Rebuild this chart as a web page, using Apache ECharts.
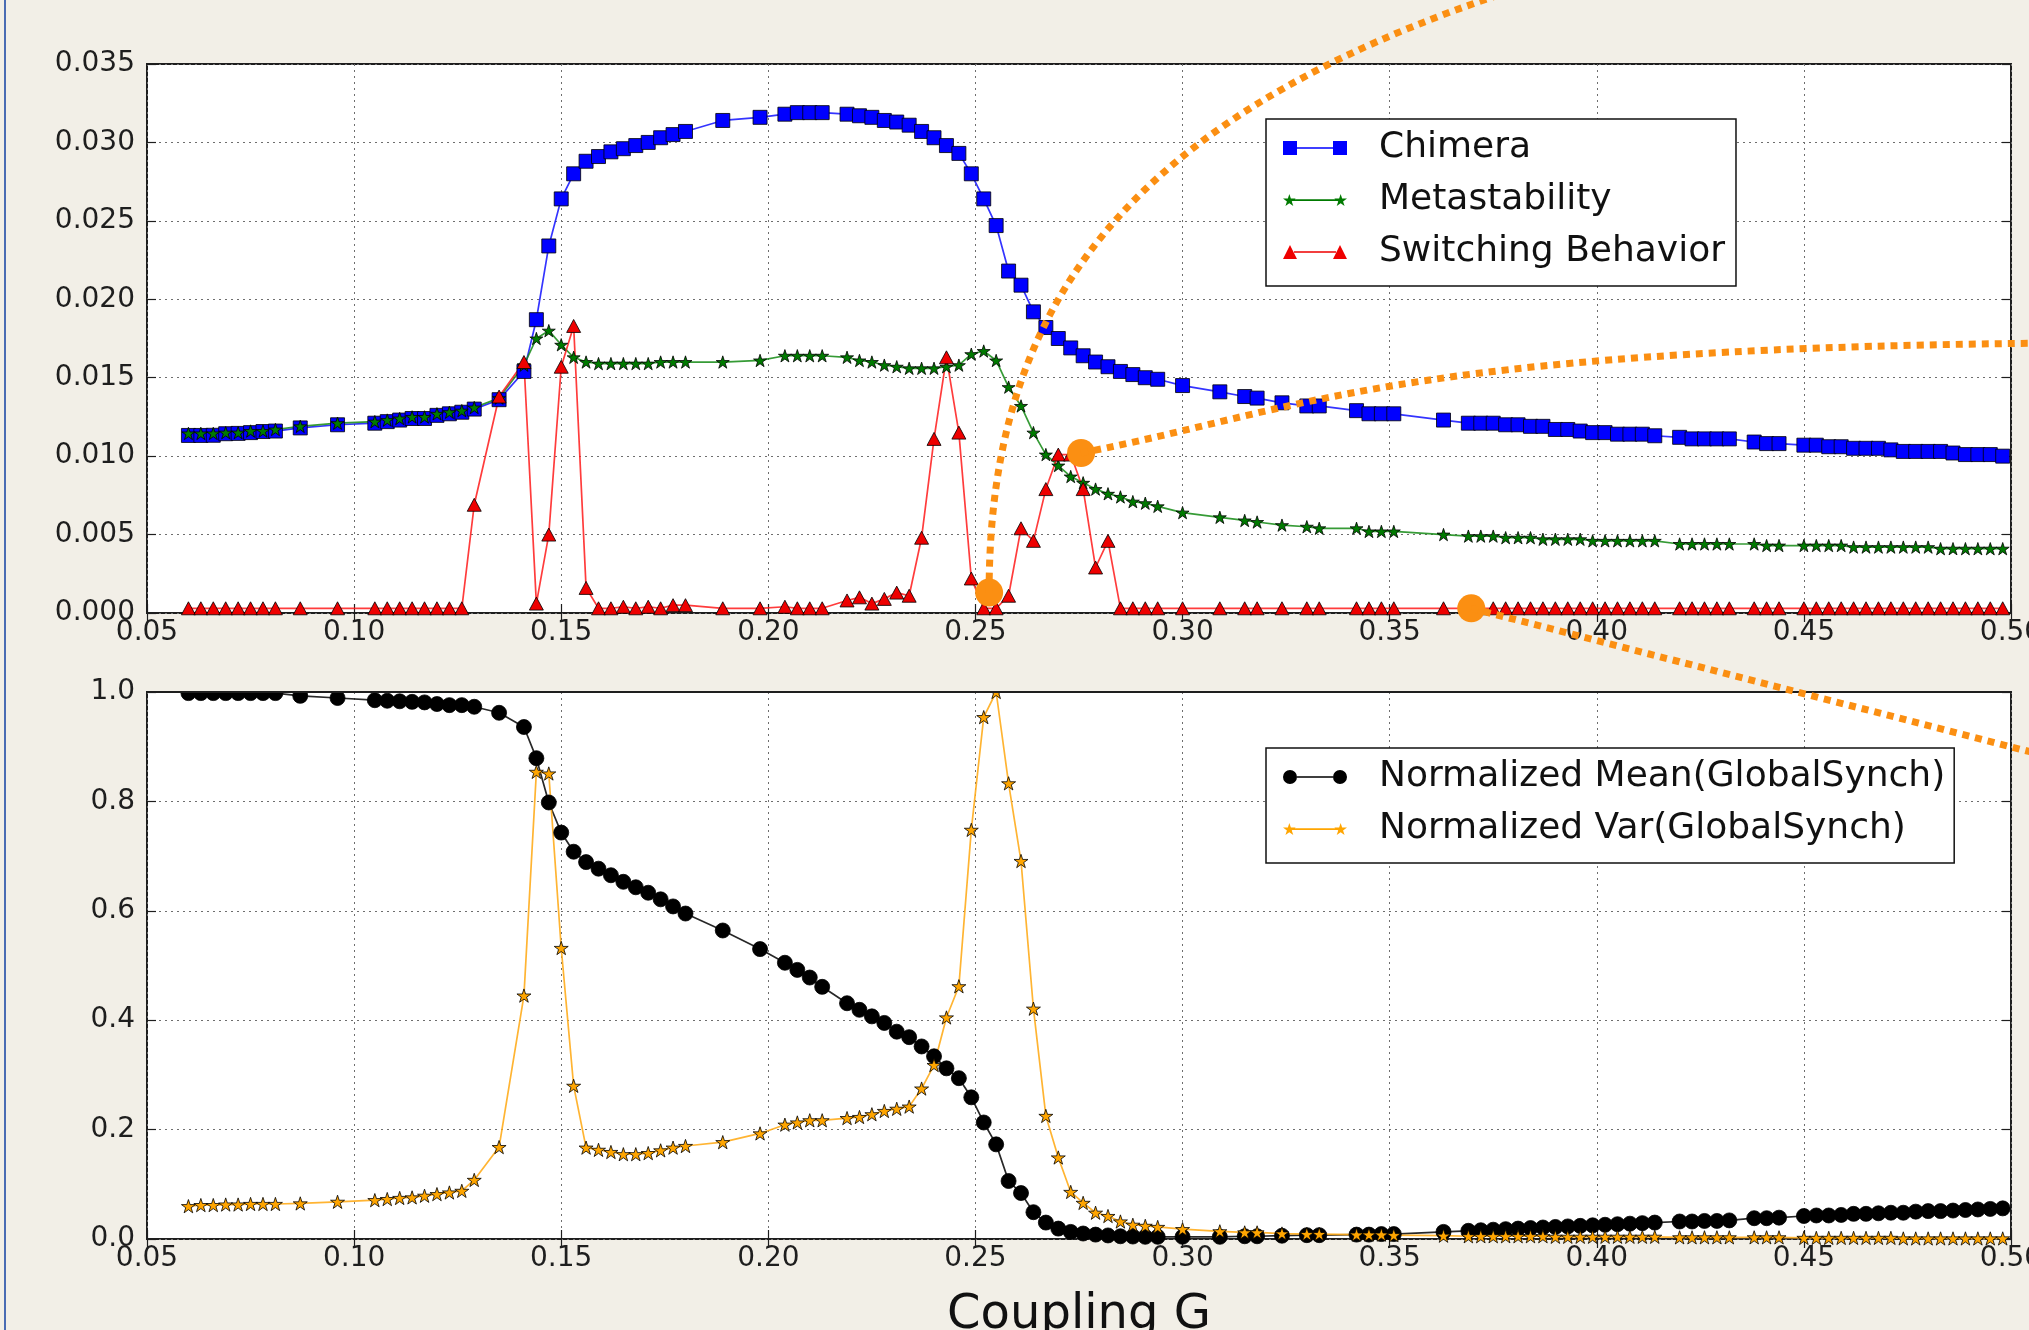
<!DOCTYPE html>
<html>
<head>
<meta charset="utf-8">
<script src="https://cdn.jsdelivr.net/npm/echarts@6/dist/echarts.min.js"></script>
<style>
  html, body { margin: 0; padding: 0; background: #f2efe7; }
  #chart { width: 2029px; height: 1330px; }
</style>
</head>
<body>
<div id="chart"></div>
<script>
// Coupling strength G sampled in the sweep
const couplingG = [
  0.060, 0.063, 0.066, 0.069, 0.072, 0.075, 0.078, 0.081, 0.087, 0.096,
  0.105, 0.108, 0.111, 0.114, 0.117, 0.120, 0.123, 0.126, 0.129, 0.135,
  0.141, 0.144, 0.147, 0.150, 0.153, 0.156, 0.159, 0.162, 0.165, 0.168,
  0.171, 0.174, 0.177, 0.180, 0.189, 0.198, 0.204, 0.207, 0.210, 0.213,
  0.219, 0.222, 0.225, 0.228, 0.231, 0.234, 0.237, 0.240, 0.243, 0.246,
  0.249, 0.252, 0.255, 0.258, 0.261, 0.264, 0.267, 0.270, 0.273, 0.276,
  0.279, 0.282, 0.285, 0.288, 0.291, 0.294, 0.300, 0.309, 0.315, 0.318,
  0.324, 0.330, 0.333, 0.342, 0.345, 0.348, 0.351, 0.363, 0.369, 0.372,
  0.375, 0.378, 0.381, 0.384, 0.387, 0.390, 0.393, 0.396, 0.399, 0.402,
  0.405, 0.408, 0.411, 0.414, 0.420, 0.423, 0.426, 0.429, 0.432, 0.438,
  0.441, 0.444, 0.450, 0.453, 0.456, 0.459, 0.462, 0.465, 0.468, 0.471,
  0.474, 0.477, 0.480, 0.483, 0.486, 0.489, 0.492, 0.495, 0.498
];

const chimera = [
  0.01132, 0.01132, 0.01133, 0.01143, 0.01145, 0.0115, 0.01157, 0.0116, 0.0118, 0.0120,
  0.0121, 0.0122, 0.0123, 0.0124, 0.0124, 0.0126, 0.0127, 0.0128, 0.0130, 0.0136,
  0.0154, 0.0187, 0.0234, 0.0264, 0.0280, 0.0288, 0.0291, 0.0294, 0.0296, 0.0298,
  0.0300, 0.0303, 0.0305, 0.0307, 0.0314, 0.0316, 0.0318, 0.0319, 0.0319, 0.0319,
  0.0318, 0.0317, 0.0316, 0.0314, 0.0313, 0.0311, 0.0307, 0.0303, 0.0298, 0.0293,
  0.0280, 0.0264, 0.0247, 0.0218, 0.0209, 0.0192, 0.0182, 0.0175, 0.0169, 0.0164,
  0.0160, 0.0157, 0.0154, 0.0152, 0.0150, 0.0149, 0.0145, 0.0141, 0.0138, 0.0137,
  0.0134, 0.0132, 0.0132, 0.0129, 0.0127, 0.0127, 0.0127, 0.0123, 0.0121, 0.0121,
  0.0121, 0.0120, 0.0120, 0.0119, 0.0119, 0.0117, 0.0117, 0.0116, 0.0115, 0.0115,
  0.0114, 0.0114, 0.0114, 0.0113, 0.0112, 0.0111, 0.0111, 0.0111, 0.0111, 0.0109,
  0.0108, 0.0108, 0.0107, 0.0107, 0.0106, 0.0106, 0.0105, 0.0105, 0.0105, 0.0104,
  0.0103, 0.0103, 0.0103, 0.0103, 0.0102, 0.0101, 0.0101, 0.0101, 0.0100
];

const metastability = [
  0.01145, 0.01145, 0.01145, 0.0115, 0.0115, 0.0116, 0.0116, 0.0117, 0.0119, 0.0121,
  0.0122, 0.0123, 0.0124, 0.0125, 0.0125, 0.0127, 0.0128, 0.0129, 0.0131, 0.0137,
  0.0158, 0.0175, 0.0180, 0.0171, 0.0163, 0.0160, 0.0159, 0.0159, 0.0159, 0.0159,
  0.0159, 0.0160, 0.0160, 0.0160, 0.0160, 0.0161, 0.0164, 0.0164, 0.0164, 0.0164,
  0.0163, 0.0161, 0.0160, 0.0158, 0.0157, 0.0156, 0.0156, 0.0156, 0.0157, 0.0158,
  0.0165, 0.0167, 0.0161, 0.0144, 0.0132, 0.0115, 0.0101, 0.0094, 0.0087, 0.0083,
  0.0079, 0.0076, 0.0074, 0.0071, 0.0070, 0.0068, 0.0064, 0.0061, 0.0059, 0.0058,
  0.0056, 0.0055, 0.0054, 0.0054, 0.0052, 0.0052, 0.0052, 0.0050, 0.0049, 0.0049,
  0.0049, 0.0048, 0.0048, 0.0048, 0.0047, 0.0047, 0.0047, 0.0047, 0.0046, 0.0046,
  0.0046, 0.0046, 0.0046, 0.0046, 0.0044, 0.0044, 0.0044, 0.0044, 0.0044, 0.0044,
  0.0043, 0.0043, 0.0043, 0.0043, 0.0043, 0.0043, 0.0042, 0.0042, 0.0042, 0.0042,
  0.0042, 0.0042, 0.0042, 0.0041, 0.0041, 0.0041, 0.0041, 0.0041, 0.0041
];

const switching = [
  0.0003, 0.0003, 0.0003, 0.0003, 0.0003, 0.0003, 0.0003, 0.0003, 0.0003, 0.0003,
  0.0003, 0.0003, 0.0003, 0.0003, 0.0003, 0.0003, 0.0003, 0.0003, 0.0069, 0.0138,
  0.0160, 0.0006, 0.0050, 0.0157, 0.0183, 0.0016, 0.0003, 0.0003, 0.0004, 0.0003,
  0.0004, 0.0003, 0.0005, 0.0005, 0.0003, 0.0003, 0.0004, 0.0003, 0.0003, 0.0003,
  0.0008, 0.0010, 0.0006, 0.0009, 0.0013, 0.0011, 0.0048, 0.0111, 0.0163, 0.0115,
  0.0022, 0.0003, 0.0003, 0.0011, 0.0054, 0.0046, 0.0079, 0.0101, 0.0101, 0.0079,
  0.0029, 0.0046, 0.0003, 0.0003, 0.0003, 0.0003, 0.0003, 0.0003, 0.0003, 0.0003,
  0.0003, 0.0003, 0.0003, 0.0003, 0.0003, 0.0003, 0.0003, 0.0003, 0.0003, 0.0003,
  0.0003, 0.0003, 0.0003, 0.0003, 0.0003, 0.0003, 0.0003, 0.0003, 0.0003, 0.0003,
  0.0003, 0.0003, 0.0003, 0.0003, 0.0003, 0.0003, 0.0003, 0.0003, 0.0003, 0.0003,
  0.0003, 0.0003, 0.0003, 0.0003, 0.0003, 0.0003, 0.0003, 0.0003, 0.0003, 0.0003,
  0.0003, 0.0003, 0.0003, 0.0003, 0.0003, 0.0003, 0.0003, 0.0003, 0.0003
];

const meanSync = [
  0.998, 0.998, 0.998, 0.998, 0.998, 0.998, 0.998, 0.998, 0.993, 0.989,
  0.985, 0.984, 0.983, 0.982, 0.981, 0.978, 0.976, 0.976, 0.973, 0.962,
  0.936, 0.879, 0.798, 0.743, 0.708, 0.689, 0.677, 0.665, 0.653, 0.643,
  0.633, 0.621, 0.608, 0.595, 0.564, 0.530, 0.505, 0.492, 0.478, 0.461,
  0.431, 0.419, 0.407, 0.395, 0.379, 0.369, 0.352, 0.334, 0.312, 0.294,
  0.259, 0.213, 0.173, 0.106, 0.084, 0.049, 0.030, 0.019, 0.013, 0.010,
  0.008, 0.0065, 0.005, 0.0045, 0.004, 0.004, 0.004, 0.004, 0.005, 0.005,
  0.006, 0.007, 0.007, 0.008, 0.008, 0.009, 0.009, 0.013, 0.015, 0.016,
  0.017, 0.018, 0.019, 0.020, 0.021, 0.022, 0.023, 0.024, 0.025, 0.026,
  0.027, 0.028, 0.029, 0.030, 0.032, 0.032, 0.033, 0.033, 0.034, 0.038,
  0.038, 0.039, 0.042, 0.043, 0.043, 0.044, 0.046, 0.046, 0.047, 0.048,
  0.048, 0.050, 0.051, 0.051, 0.052, 0.053, 0.054, 0.055, 0.056
];

const varSync = [
  0.060, 0.062, 0.062, 0.063, 0.063, 0.064, 0.064, 0.064, 0.065, 0.068,
  0.071, 0.073, 0.075, 0.076, 0.079, 0.082, 0.085, 0.088, 0.108, 0.168,
  0.445, 0.854, 0.851, 0.532, 0.280, 0.167, 0.163, 0.159, 0.155, 0.155,
  0.157, 0.162, 0.167, 0.170, 0.177, 0.193, 0.209, 0.213, 0.217, 0.217,
  0.221, 0.223, 0.228, 0.234, 0.238, 0.242, 0.275, 0.318, 0.405, 0.462,
  0.748, 0.954, 1.000, 0.833, 0.691, 0.421, 0.225, 0.149, 0.086, 0.066,
  0.048, 0.042, 0.032, 0.026, 0.024, 0.022, 0.018, 0.014, 0.012, 0.012,
  0.010, 0.009, 0.009, 0.008, 0.008, 0.008, 0.007, 0.006, 0.005, 0.005,
  0.005, 0.005, 0.005, 0.005, 0.005, 0.004, 0.004, 0.004, 0.004, 0.004,
  0.004, 0.004, 0.004, 0.004, 0.003, 0.003, 0.003, 0.003, 0.003, 0.003,
  0.003, 0.003, 0.002, 0.002, 0.002, 0.002, 0.002, 0.002, 0.002, 0.002,
  0.001, 0.001, 0.001, 0.001, 0.001, 0.001, 0.001, 0.001, 0.001
];

// Axis ticks
const xTicks = { min: 0.05, max: 0.50, step: 0.05 };
const yTicksTop = { min: 0, max: 0.035, step: 0.005 };
const yTicksBottom = { min: 0, max: 1.0, step: 0.2 };

// Highlighted points on the top panel and the dotted call-out curves leaving them
// (curve control points are in the top panel's data units)
const calloutPoints = [[0.2533, 0.0013], [0.2755, 0.0102], [0.3697, 0.0003]];
const calloutCurves = [
  { from: 0, c1: [0.2533, 0.0200], c2: [0.2872, 0.0334], to: [0.4055, 0.0417] },
  { from: 1, c1: [0.3283, 0.0129], c2: [0.3507, 0.0168], to: [0.5069, 0.0172] },
  { from: 2, c1: [0.4154, -0.0028], c2: [0.4612, -0.0059], to: [0.5069, -0.0090] }
];

const FONT = 'DejaVu Sans';
const INK = '#1e1e1e';
const PAGE_BG = '#f2efe7';
const STAR_PTS = [[50,0],[61.2,34.5],[97.6,34.5],[68.2,55.9],[79.4,90.5],[50,69.1],
                  [20.6,90.5],[31.8,55.9],[2.4,34.5],[38.8,34.5]];
const STAR = 'path://M' + STAR_PTS.map(p => p.join(',')).join('L') + 'Z';

// Legend keys: a short line with a marker at each end (64 x 14 box)
const keyMarkers = {
  square: cx => `M${cx - 7},0h14v14h-14Z`,
  triangle: cx => `M${cx},0L${cx + 7},14L${cx - 7},14Z`,
  circle: cx => `M${cx - 7},7A7,7 0 1,1 ${cx + 7},7A7,7 0 1,1 ${cx - 7},7Z`,
  star: cx => 'M' + STAR_PTS.map(p => `${(cx - 6.5 + p[0] * 0.13).toFixed(2)},${(1 + p[1] * 0.13).toFixed(2)}`).join('L') + 'Z'
};
function legendKey(kind, lineFrom, lineTo) {
  return 'path://' + keyMarkers[kind](7) + `M${lineFrom},6.2H${lineTo}V7.8H${lineFrom}Z` + keyMarkers[kind](57);
}

const pairs = ys => couplingG.map((g, i) => [g, ys[i]]);

const tickStyle = { show: true, inside: true, length: 9, lineStyle: { color: INK, width: 1.2 } };
const gridLineStyle = { show: true, lineStyle: { color: '#6e6e6e', width: 1, type: [2, 4] } };

function xAxisMain(gridIndex, withName) {
  const ax = {
    type: 'value', gridIndex, min: xTicks.min, max: xTicks.max, interval: xTicks.step,
    position: 'bottom', axisLine: { show: false }, axisTick: tickStyle,
    axisLabel: { fontFamily: FONT, fontSize: 28, color: INK, margin: 6,
                 formatter: v => v.toFixed(2) },
    splitLine: gridLineStyle
  };
  if (withName) {
    ax.name = 'Coupling G';
    ax.nameLocation = 'middle';
    ax.nameGap = 53;
    ax.nameTextStyle = { fontFamily: FONT, fontSize: 48, color: '#111' };
  }
  return ax;
}
function xAxisTop(gridIndex) {
  return {
    type: 'value', gridIndex, min: xTicks.min, max: xTicks.max, interval: xTicks.step,
    position: 'top', axisLine: { show: false }, axisLabel: { show: false },
    splitLine: { show: false }, axisTick: tickStyle
  };
}
function yAxisMain(gridIndex, t, digits) {
  return {
    type: 'value', gridIndex, min: t.min, max: t.max, interval: t.step, position: 'left',
    axisLine: { show: false }, axisTick: tickStyle,
    axisLabel: { fontFamily: FONT, fontSize: 28, color: INK, margin: 12,
                 formatter: v => v.toFixed(digits) },
    splitLine: gridLineStyle
  };
}
function yAxisRight(gridIndex, t) {
  return {
    type: 'value', gridIndex, min: t.min, max: t.max, interval: t.step, position: 'right',
    axisLine: { show: false }, axisLabel: { show: false }, splitLine: { show: false },
    axisTick: tickStyle
  };
}

function lineSeries(name, ys, xi, yi, color, symbol, size, fill, lineOpacity) {
  return {
    name, type: 'line', xAxisIndex: xi, yAxisIndex: yi, data: pairs(ys),
    symbol, symbolSize: size, showAllSymbol: true, animation: false,
    lineStyle: { color, width: 1.7, opacity: lineOpacity },
    itemStyle: { color: fill, borderColor: '#000', borderWidth: 0.8 },
    emphasis: { disabled: true }
  };
}

const legendBase = {
  orient: 'vertical', left: 1266, itemWidth: 64, itemHeight: 14, itemGap: 12,
  backgroundColor: '#ffffff', borderColor: '#111', borderWidth: 1.5, borderRadius: 0,
  selectedMode: false,
  itemStyle: { borderWidth: 0 },
  lineStyle: { width: 0 },
  textStyle: { fontFamily: FONT, fontSize: 36, color: '#111', lineHeight: 40,
               padding: [0, 0, 0, 27] }
};

const option = {
  backgroundColor: PAGE_BG,
  animation: false,
  grid: [
    { left: 147, right: 18, top: 64, height: 549, show: true, backgroundColor: '#ffffff',
      borderColor: INK, borderWidth: 2, containLabel: false, outerBoundsMode: 'none' },
    { left: 147, right: 18, top: 692, height: 547, show: true, backgroundColor: '#ffffff',
      borderColor: INK, borderWidth: 2, containLabel: false, outerBoundsMode: 'none' }
  ],
  xAxis: [xAxisMain(0, false), xAxisTop(0), xAxisMain(1, true), xAxisTop(1)],
  yAxis: [yAxisMain(0, yTicksTop, 3), yAxisRight(0, yTicksTop),
          yAxisMain(1, yTicksBottom, 1), yAxisRight(1, yTicksBottom)],
  legend: [
    Object.assign({}, legendBase, { top: 119, padding: [9, 11, 14, 17],
      data: [
        { name: 'Chimera', icon: legendKey('square', 14, 50) },
        { name: 'Metastability', icon: legendKey('star', 10, 54) },
        { name: 'Switching Behavior', icon: legendKey('triangle', 11, 53) }
      ] }),
    Object.assign({}, legendBase, { top: 748, padding: [9, 9, 14, 17],
      data: [
        { name: 'Normalized Mean(GlobalSynch)', icon: legendKey('circle', 14, 50) },
        { name: 'Normalized Var(GlobalSynch)', icon: legendKey('star', 10, 54) }
      ] })
  ],
  series: [
    lineSeries('Chimera', chimera, 0, 0, '#1010ff', 'rect', 14, '#0000ff', 0.85),
    lineSeries('Metastability', metastability, 0, 0, '#138a13', STAR, [13, 12.4], '#007a00', 0.85),
    lineSeries('Switching Behavior', switching, 0, 0, '#ff1a1a', 'triangle', [14, 13], '#ee0000', 0.85),
    lineSeries('Normalized Mean(GlobalSynch)', meanSync, 2, 2, '#111111', 'circle', 15, '#000000', 0.9),
    lineSeries('Normalized Var(GlobalSynch)', varSync, 2, 2, '#ffac1c', STAR, [14, 13.3], '#ffa500', 0.9),
    {
      name: 'callouts', type: 'scatter', xAxisIndex: 0, yAxisIndex: 0,
      data: calloutPoints, symbol: 'circle', symbolSize: 28, clip: false, z: 20,
      itemStyle: { color: '#fb8f12', opacity: 1 }, emphasis: { disabled: true }, silent: true
    }
  ]
};

const chart = echarts.init(document.getElementById('chart'), null, { renderer: 'canvas' });
chart.setOption(option);

// Dotted call-out curves, placed through the top panel's scales
const toPx = p => chart.convertToPixel({ xAxisIndex: 0, yAxisIndex: 0 }, p);
const toPxLower = p => chart.convertToPixel({ xAxisIndex: 2, yAxisIndex: 2 }, p);
const calloutGraphics = calloutCurves.map(c => {
  const a = toPx(calloutPoints[c.from]);
  const p1 = toPx(c.c1), p2 = toPx(c.c2), b = toPx(c.to);
  return {
    type: 'bezierCurve', z: 30, silent: true,
    shape: { x1: a[0], y1: a[1], cpx1: p1[0], cpy1: p1[1], cpx2: p2[0], cpy2: p2[1], x2: b[0], y2: b[1] },
    style: { stroke: '#fb8f12', lineWidth: 7, lineDash: [7, 6], fill: null, lineCap: 'butt' }
  };
});

// Markers sitting on the lower panel's top edge are cut at the frame, with the frame drawn over them
const lowerTopLeft = toPxLower([xTicks.min, yTicksBottom.max]);
const lowerTopRight = toPxLower([xTicks.max, yTicksBottom.max]);
const frameTrim = [
  { type: 'rect', silent: true, z: 10,
    shape: { x: lowerTopLeft[0] - 2, y: lowerTopLeft[1] - 18,
             width: lowerTopRight[0] - lowerTopLeft[0] + 4, height: 17 },
    style: { fill: PAGE_BG } },
  { type: 'line', silent: true, z: 11,
    shape: { x1: lowerTopLeft[0] - 1, y1: lowerTopLeft[1], x2: lowerTopRight[0] + 1, y2: lowerTopRight[1] },
    style: { stroke: INK, lineWidth: 2 } }
];

chart.setOption({
  graphic: [
    { type: 'rect', silent: true, z: 40, shape: { x: 4, y: 0, width: 2, height: 1330 },
      style: { fill: '#4a6cb3' } }
  ].concat(frameTrim, calloutGraphics)
});
</script>
</body>
</html>
